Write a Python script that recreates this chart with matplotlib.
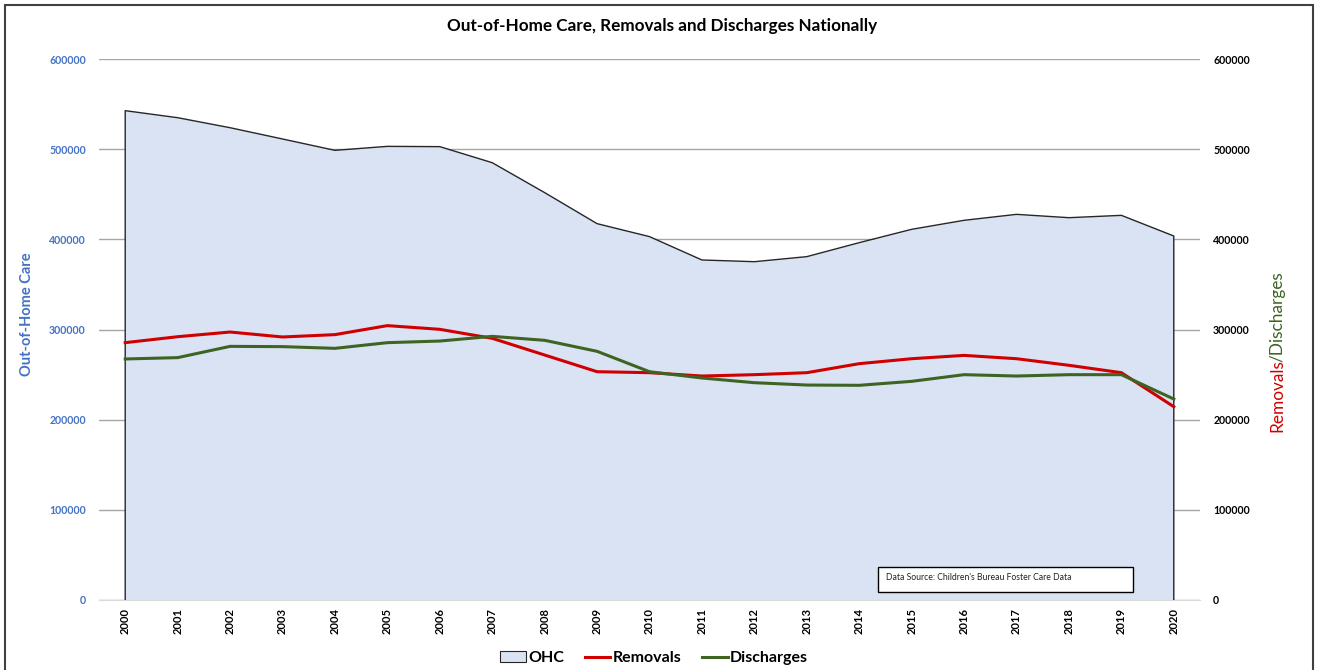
import matplotlib
matplotlib.use("Agg")
import matplotlib.pyplot as plt
import matplotlib.patches as mpatches
from matplotlib.lines import Line2D
import numpy as np

# ── Data ────────────────────────────────────────────────────────────────
years = list(range(2000, 2021))
ohc = [542700, 534900, 523800, 511300, 498700, 503100, 502800, 485000,
       451800, 417400, 403000, 377100, 375200, 380800, 396300, 411100,
       421100, 427700, 424000, 426600, 403700]
removals = [285400, 292000, 297200, 291700, 294300, 304300, 300200, 290200,
            271700, 253200, 252100, 248400, 249900, 252100, 262100, 267600,
            271300, 267600, 260300, 252100, 214400]
discharges = [267300, 268800, 281300, 281000, 279100, 285400, 287200, 292400,
              288000, 275800, 253200, 246200, 241000, 238400, 238100, 242500,
              249900, 248400, 249900, 249900, 222900]
y_ticks = [0, 100000, 200000, 300000, 400000, 500000, 600000]

FONT = "Lato"
FILL = "#DAE3F3"
EDGE = "#262626"
RED = "#D00000"
GREEN = "#3E6424"
BLUE = "#4472C4"
GRID = "#A6A6A6"

plt.rcParams["font.family"] = [FONT, "DejaVu Sans"]

W, H = 1317, 670
fig = plt.figure(figsize=(W / 100, H / 100), dpi=100)
fig.patch.set_facecolor("white")

ax = fig.add_axes([99 / W, 1 - 600 / H, (1200 - 99) / W, (600 - 59) / H])
ax2 = ax.twinx()

# OHC area with outline
ax.fill_between(years, 0, ohc, color=FILL, zorder=2, linewidth=0)
ax.plot([years[0]] + years + [years[-1]], [0] + ohc + [0],
        color=EDGE, linewidth=1.0, zorder=3)

ax2.plot(years, removals, color=RED, linewidth=2.2, zorder=4)
ax2.plot(years, discharges, color=GREEN, linewidth=2.2, zorder=4)

for a in (ax, ax2):
    a.set_xlim(1999.5, 2020.5)
    a.set_ylim(0, 600000)
    a.set_yticks(y_ticks)
    a.set_yticklabels([str(v) for v in y_ticks])
    for s in a.spines.values():
        s.set_visible(False)
    a.tick_params(axis="y", length=0, pad=9.5)

ax.set_axisbelow(True)
ax.grid(axis="y", color=GRID, linewidth=1.0, zorder=0)
ax.spines["bottom"].set_visible(True)
ax.spines["bottom"].set_color("#D9D9D9")
ax.set_xticks(years)
ax.set_xticklabels([str(y) for y in years], rotation=90,
                   fontsize=8, fontweight="bold")
ax.tick_params(axis="x", length=0, pad=6)
ax.tick_params(axis="y", labelcolor=BLUE, labelsize=7.6)
for t in ax.get_yticklabels():
    t.set_fontweight("bold")
ax2.tick_params(axis="y", labelcolor="black", labelsize=7.6)
for t in ax2.get_yticklabels():
    t.set_fontweight("bold")

# Title
fig.text(662 / W, 1 - 26 / H,
         "Out-of-Home Care, Removals and Discharges Nationally",
         ha="center", va="center", fontsize=12.3, fontweight="bold",
         color="black")

# Left axis title
fig.text(27 / W, 1 - 314 / H, "Out-of-Home Care", rotation=90,
         ha="center", va="center", fontsize=10.5, fontweight="bold",
         color=BLUE)

# Right axis title in two colours
t1 = fig.text(1277 / W, 1 - 432 / H, "Removals", rotation=90,
              ha="center", va="bottom", fontsize=12.4, color=RED)
fig.canvas.draw()
bb = t1.get_window_extent(fig.canvas.get_renderer())
fig.text(1277 / W, (bb.y1 - 3) / H, "/Discharges", rotation=90,
         ha="center", va="bottom", fontsize=12.4, color=GREEN)

# Data source box
fig.patches.append(mpatches.Rectangle(
    (878 / W, 1 - 592 / H), 255 / W, 25 / H, transform=fig.transFigure,
    facecolor="white", edgecolor="black", linewidth=1.0, zorder=5))
fig.text(886 / W, 1 - 577 / H,
         "Data Source: Children's Bureau Foster Care Data",
         ha="left", va="center", fontsize=6.2, color="#222222", zorder=6)

# Legend
handles = [
    mpatches.Patch(facecolor=FILL, edgecolor=EDGE, linewidth=0.8, label="OHC"),
    Line2D([], [], color=RED, linewidth=2.2, label="Removals"),
    Line2D([], [], color=GREEN, linewidth=2.2, label="Discharges"),
]
fig.legend(handles=handles, loc="center", bbox_to_anchor=(654 / W, 1 - 658 / H),
           ncol=3, frameon=False, handlelength=1.6,
           handletextpad=0.15, columnspacing=1.3,
           prop={"family": FONT, "weight": "bold", "size": 11.5})

# Outer border
fig.patches.append(mpatches.Rectangle(
    (5 / W, -0.01), (1313 - 5) / W, 1.01 - 5 / H, transform=fig.transFigure,
    fill=False, edgecolor="#404040", linewidth=1.5))

fig.savefig("out.png", dpi=100, facecolor="white")
